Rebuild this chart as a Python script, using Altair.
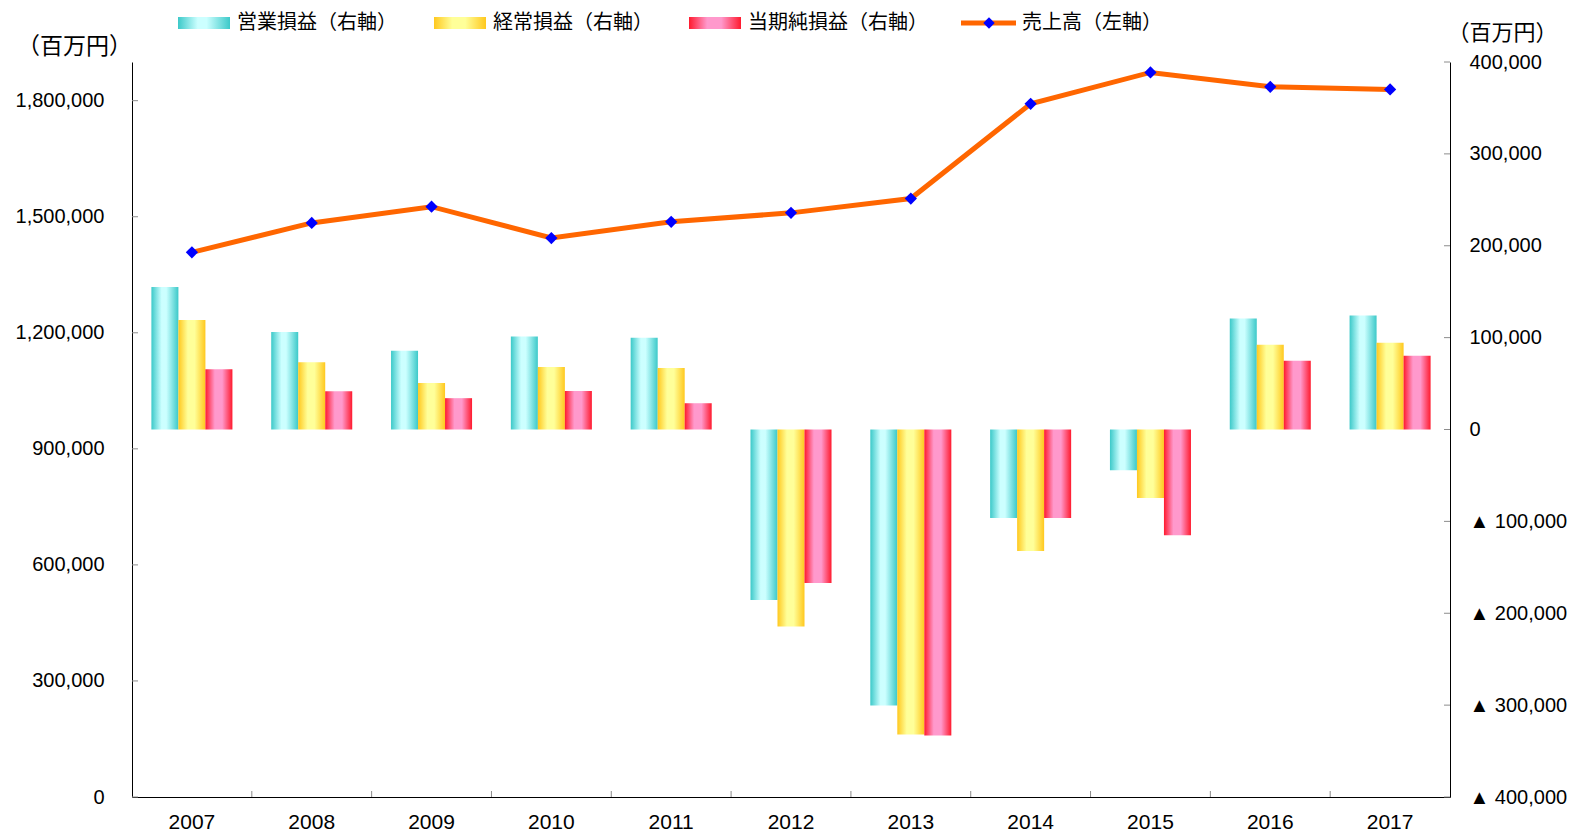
import altair as alt
import pandas as pd

# ---------------- data ----------------
years = ["2007", "2008", "2009", "2010", "2011", "2012", "2013", "2014", "2015", "2016", "2017"]
sales = [1408000, 1484000, 1526000, 1445000, 1487000, 1510000, 1547000, 1792000, 1873000, 1836000, 1829000]
operating = [155000, 106000, 85700, 101100, 100000, -185700, -300300, -96300, -44300, 120900, 124200]
ordinary = [119100, 73300, 50500, 68100, 67000, -214300, -331900, -132200, -74500, 92300, 94500]
net_income = [65700, 41700, 34100, 41800, 28600, -167000, -333000, -96300, -115100, 74700, 80200]

series_names = ["営業損益（右軸）", "経常損益（右軸）", "当期純損益（右軸）"]
line_name = "売上高（左軸）"
unit_label = "（百万円）"
left_ticks = [0, 300000, 600000, 900000, 1200000, 1500000, 1800000]
right_ticks = [-400000, -300000, -200000, -100000, 0, 100000, 200000, 300000, 400000]

# ---------------- tables ----------------
bar_df = pd.DataFrame({
    "year": years * 3,
    "series": [s for s in series_names for _ in years],
    "value": operating + ordinary + net_income,
})
line_df = pd.DataFrame({"year": years, "sales": sales})
left_tick_df = pd.DataFrame({"sales": left_ticks})
right_tick_df = pd.DataFrame({"value": right_ticks})
year_df = pd.DataFrame({"year": years[1:]})

# ---------------- styling ----------------
W, H = 1318, 735
FONT = "Liberation Sans, Noto Sans CJK JP, sans-serif"
CJK = "Noto Sans CJK JP, sans-serif"
TICK_GREY = "#8c8c8c"


def grad(edge, center, a, b):
    return {
        "gradient": "linear", "x1": 0, "y1": 0, "x2": 1, "y2": 0,
        "stops": [
            {"offset": 0, "color": edge},
            {"offset": a, "color": center},
            {"offset": b, "color": center},
            {"offset": 1, "color": edge},
        ],
    }


GRADS = [
    grad("#3cc9c9", "#ccffff", 0.38, 0.55),
    grad("#ffc81e", "#ffff99", 0.35, 0.6),
    grad("#ff1a2e", "#ff99cc", 0.35, 0.62),
]

x_scale = alt.Scale(domain=years, paddingInner=0, paddingOuter=0)
x_axis = alt.Axis(labelAngle=0, ticks=False, labelPadding=14, labelFontSize=21,
                  domainColor="black", title=None, grid=False)
xo_scale = alt.Scale(domain=series_names, paddingInner=0, paddingOuter=0.7185)

right_scale = alt.Scale(domain=[-400000, 400000], nice=False, zero=False)
left_scale = alt.Scale(domain=[0, 1900000], nice=False, zero=False)

right_axis = alt.Axis(
    orient="right", values=right_ticks, grid=False, ticks=False, labelPadding=19,
    labelExpr="datum.value < 0 ? '▲ ' + format(-datum.value, ',') : format(datum.value, ',')",
    title=unit_label, titleAngle=0, titleX=52, titleY=-30, titleAlign="center",
    titleBaseline="middle", titleFontSize=22, domainColor="black",
)
left_axis = alt.Axis(
    orient="left", values=left_ticks, grid=False, ticks=False, labelPadding=28,
    labelExpr="format(datum.value, ',')",
    title=unit_label, titleAngle=0, titleX=-58, titleY=-16, titleFontSize=23,
    titleAlign="center", titleBaseline="middle", domainColor="black",
)

X = lambda **kw: alt.X("year:N", scale=x_scale, axis=x_axis, sort=years, **kw)

# ---------------- bars (right axis) ----------------
bar_layers = []
for name, g in zip(series_names, GRADS):
    bar_layers.append(
        alt.Chart(bar_df)
        .transform_filter(alt.datum.series == name)
        .mark_bar(color=g)
        .encode(
            x=X(),
            xOffset=alt.XOffset("series:N", scale=xo_scale, sort=series_names),
            y=alt.Y("value:Q", scale=right_scale, axis=right_axis),
        )
    )

right_tick_rules = alt.Chart(right_tick_df).mark_rule(color=TICK_GREY, strokeWidth=1).encode(
    y=alt.Y("value:Q", scale=right_scale, axis=right_axis),
    x=alt.value(W - 6), x2=alt.value(W),
)
x_tick_rules = alt.Chart(year_df).mark_rule(color=TICK_GREY, strokeWidth=1).encode(
    x=X(bandPosition=0),
    y=alt.value(H - 6), y2=alt.value(H),
)

right_group = alt.layer(*bar_layers, right_tick_rules, x_tick_rules)

# ---------------- line (left axis) ----------------
line = alt.Chart(line_df).mark_line(color="#ff6600", strokeWidth=5).encode(
    x=X(),
    y=alt.Y("sales:Q", scale=left_scale, axis=left_axis),
)
points = alt.Chart(line_df).mark_point(shape="diamond", filled=True, size=150,
                                       color="#0000ff", opacity=1).encode(
    x=X(),
    y=alt.Y("sales:Q", scale=left_scale, axis=left_axis),
)
left_tick_rules = alt.Chart(left_tick_df).mark_rule(color=TICK_GREY, strokeWidth=1).encode(
    y=alt.Y("sales:Q", scale=left_scale, axis=left_axis),
    x=alt.value(0), x2=alt.value(6),
)
left_group = alt.layer(left_tick_rules, line, points)

# ---------------- legend (top) ----------------
LEG_Y = -39
legend_layers = []
swatch_x = [46, 302, 557]
for name, g, sx in zip(series_names, GRADS, swatch_x):
    lab = pd.DataFrame({"label": [name]})
    legend_layers.append(
        alt.Chart(lab).mark_rect(color=g).encode(
            x=alt.value(sx), x2=alt.value(sx + 52),
            y=alt.value(LEG_Y - 6), y2=alt.value(LEG_Y + 6),
        )
    )
    legend_layers.append(
        alt.Chart(lab).mark_text(align="left", baseline="middle", font=CJK, fontSize=20,
                                 color="black").encode(
            text="label:N", x=alt.value(sx + 59), y=alt.value(LEG_Y),
        )
    )
line_lab = pd.DataFrame({"label": [line_name]})
legend_layers.append(
    alt.Chart(line_lab).mark_rule(color="#ff6600", strokeWidth=5).encode(
        x=alt.value(829), x2=alt.value(884), y=alt.value(LEG_Y),
    )
)
legend_layers.append(
    alt.Chart(line_lab).mark_point(shape="diamond", filled=True, size=130,
                                   color="#0000ff", opacity=1).encode(
        x=alt.value(857), y=alt.value(LEG_Y),
    )
)
legend_layers.append(
    alt.Chart(line_lab).mark_text(align="left", baseline="middle", font=CJK, fontSize=20,
                                  color="black").encode(
        text="label:N", x=alt.value(890), y=alt.value(LEG_Y),
    )
)

chart = (
    alt.layer(right_group, left_group, *legend_layers)
    .resolve_scale(y="independent")
    .properties(
        width=W, height=H,
        padding={"left": 124, "top": 54, "right": 124, "bottom": 34},
        autosize=alt.AutoSizeParams(type="none"),
        background="white",
    )
    .configure_view(stroke=None)
    .configure_axis(
        labelFont=FONT, titleFont=CJK, labelColor="black", titleColor="black",
        labelFontSize=20, titleFontSize=22, titleFontWeight="normal",
        domainWidth=1, grid=False,
    )
)

chart.save("out.html", embed_options={"renderer": "svg", "actions": False})
